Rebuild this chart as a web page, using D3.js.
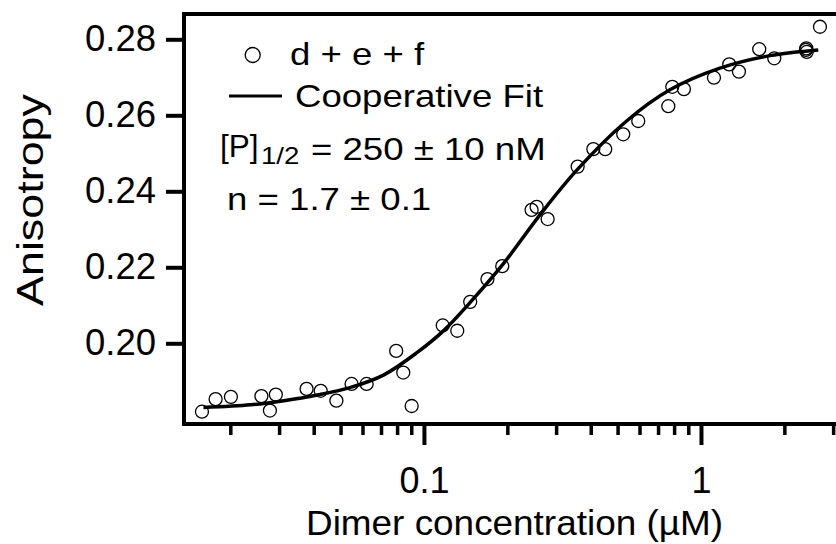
<html>

<head>
  <meta charset="UTF-8">
  <title>Anisotropy binding curve</title>
  <script src="https://d3js.org/d3.v7.min.js"></script>
  <style>
    body {
      margin: 0;
      background-color: white;
    }
    svg {
      display: block;
      font-family: "Liberation Sans", Arial, sans-serif;
    }
  </style>
</head>

<body>
  <svg></svg>
</body>

<script>
  let width = 836,
    height = 544;

  // measured data points (dimer concentration in uM, anisotropy)
  let concX = [0.0158, 0.0177, 0.0201, 0.0259, 0.0278, 0.0292, 0.0377, 0.0424, 0.0483, 0.0548,
    0.0621, 0.0794, 0.0842, 0.0903, 0.1169, 0.1319, 0.1469, 0.1695, 0.1917, 0.2447,
    0.2552, 0.2796, 0.3588, 0.4087, 0.4513, 0.5241, 0.5937, 0.7622, 0.7878, 0.8681,
    1.114, 1.265, 1.371, 1.623, 1.839, 2.394, 2.41, 2.40, 2.689];
  let aniso = [0.1820, 0.1853, 0.1859, 0.1861, 0.1823, 0.1865, 0.1880, 0.1875, 0.1849, 0.1893,
    0.1893, 0.1980, 0.1923, 0.1835, 0.2047, 0.2033, 0.2109, 0.2169, 0.2203, 0.2351,
    0.2359, 0.2327, 0.2465, 0.2511, 0.2511, 0.2550, 0.2585, 0.2624, 0.2675, 0.2669,
    0.2699, 0.2734, 0.2715, 0.2774, 0.2750, 0.2772, 0.2767, 0.2776, 0.2833];

  // cooperative fit curve
  let fitX = [0.0160, 0.0237, 0.0312, 0.0412, 0.0544, 0.0717, 0.0946, 0.1181, 0.1466, 0.1933,
    0.2623, 0.3557, 0.5391, 0.7728, 1.171, 1.775, 2.651];
  let fitY = [0.1831, 0.1838, 0.1849, 0.1864, 0.1884, 0.1917, 0.1976, 0.2034, 0.2107, 0.2209,
    0.2338, 0.2455, 0.2585, 0.2667, 0.2724, 0.2757, 0.2772];

  let yTicks = [0.20, 0.22, 0.24, 0.26, 0.28];
  let xMajor = [0.1, 1];
  let xMinor = [0.02, 0.03, 0.04, 0.05, 0.06, 0.07, 0.08, 0.09,
    0.2, 0.3, 0.4, 0.5, 0.6, 0.7, 0.8, 0.9, 2, 3];

  let plotL = 184, plotT = 14, plotB = 424, plotR = 840;

  let svg = d3.select("svg")
    .attr("width", width)
    .attr("height", height);

  let x = d3.scaleLog()
    .domain([0.01361, 3.176])
    .range([plotL, plotR]);

  let y = d3.scaleLinear()
    .domain([0.17876, 0.28666])
    .range([plotB, plotT]);

  // y axis
  let yAxis = svg.append("g")
    .attr("transform", "translate(" + plotL + ",0)")
    .call(d3.axisLeft(y).tickValues(yTicks).tickSize(18).tickPadding(10).tickFormat(d3.format(".2f")));
  yAxis.select(".domain").remove();
  yAxis.selectAll(".tick line").attr("stroke", "black").attr("stroke-width", 4);
  yAxis.selectAll(".tick text")
    .attr("font-size", 36)
    .attr("font-family", "Liberation Sans, Arial, sans-serif")
    .attr("textLength", 71)
    .attr("lengthAdjust", "spacingAndGlyphs")
    .attr("fill", "black");

  // x axis, major + minor ticks
  let xAxisMinor = svg.append("g")
    .attr("transform", "translate(0," + plotB + ")")
    .call(d3.axisBottom(x).tickValues(xMinor).tickSize(11).tickFormat(""));
  xAxisMinor.select(".domain").remove();
  xAxisMinor.selectAll(".tick line").attr("stroke", "black").attr("stroke-width", 3.5);

  let xAxis = svg.append("g")
    .attr("transform", "translate(0," + plotB + ")")
    .call(d3.axisBottom(x).tickValues(xMajor).tickSize(21).tickPadding(22).tickFormat(d => d >= 1 ? "1" : "0.1"));
  xAxis.select(".domain").remove();
  xAxis.selectAll(".tick line").attr("stroke", "black").attr("stroke-width", 4);
  xAxis.selectAll(".tick text")
    .attr("font-size", 36)
    .attr("font-family", "Liberation Sans, Arial, sans-serif")
    .attr("fill", "black");

  // frame: left, bottom, top
  svg.append("path")
    .attr("d", "M" + plotR + "," + plotT + "H" + plotL + "V" + plotB + "H" + plotR)
    .attr("fill", "none")
    .attr("stroke", "black")
    .attr("stroke-width", 4);

  // fit curve
  let fitData = fitX.map((v, i) => [v, fitY[i]]);
  svg.append("path")
    .datum(fitData)
    .attr("fill", "none")
    .attr("stroke", "black")
    .attr("stroke-width", 3.5)
    .attr("d", d3.line().x(d => x(d[0])).y(d => y(d[1])).curve(d3.curveCatmullRom.alpha(0.5)));

  // points
  let pts = concX.map((v, i) => [v, aniso[i]]);
  svg.append("g")
    .selectAll("circle")
    .data(pts)
    .enter()
    .append("circle")
    .attr("cx", d => x(d[0]))
    .attr("cy", d => y(d[1]))
    .attr("r", 6.5)
    .attr("fill", "none")
    .attr("stroke", "black")
    .attr("stroke-width", 1.3);

  // axis titles
  svg.append("text")
    .attr("x", 514.5)
    .attr("y", 535)
    .attr("text-anchor", "middle")
    .attr("font-size", 35)
    .attr("textLength", 417)
    .attr("lengthAdjust", "spacingAndGlyphs")
    .text("Dimer concentration (µM)");

  svg.append("text")
    .attr("transform", "translate(43,200) rotate(-90)")
    .attr("text-anchor", "middle")
    .attr("font-size", 37)
    .attr("textLength", 212)
    .attr("lengthAdjust", "spacingAndGlyphs")
    .text("Anisotropy");

  // legend
  let legend = svg.append("g");
  legend.append("circle")
    .attr("cx", 252.7).attr("cy", 55).attr("r", 7.5)
    .attr("fill", "none").attr("stroke", "black").attr("stroke-width", 1.3);
  legend.append("line")
    .attr("x1", 229).attr("x2", 282).attr("y1", 96).attr("y2", 96)
    .attr("stroke", "black").attr("stroke-width", 3);

  let legText = (tx, ty, size, sx, s) => legend.append("text")
    .attr("transform", "translate(" + tx + "," + ty + ") scale(" + sx + ",1)")
    .attr("font-size", size)
    .text(s);

  legText(290, 65, 30.5, 1.2, "d + e + f");
  legText(295, 107, 30.5, 1.2, "Cooperative Fit");
  legText(220, 157, 31.5, 1, "[P]");
  legText(261, 164, 23, 1.2, "1/2");
  legText(311, 160, 30.5, 1.2, "= 250 ± 10 nM");
  legText(227, 210, 30.5, 1.2, "n = 1.7 ± 0.1");
</script>
</html>
